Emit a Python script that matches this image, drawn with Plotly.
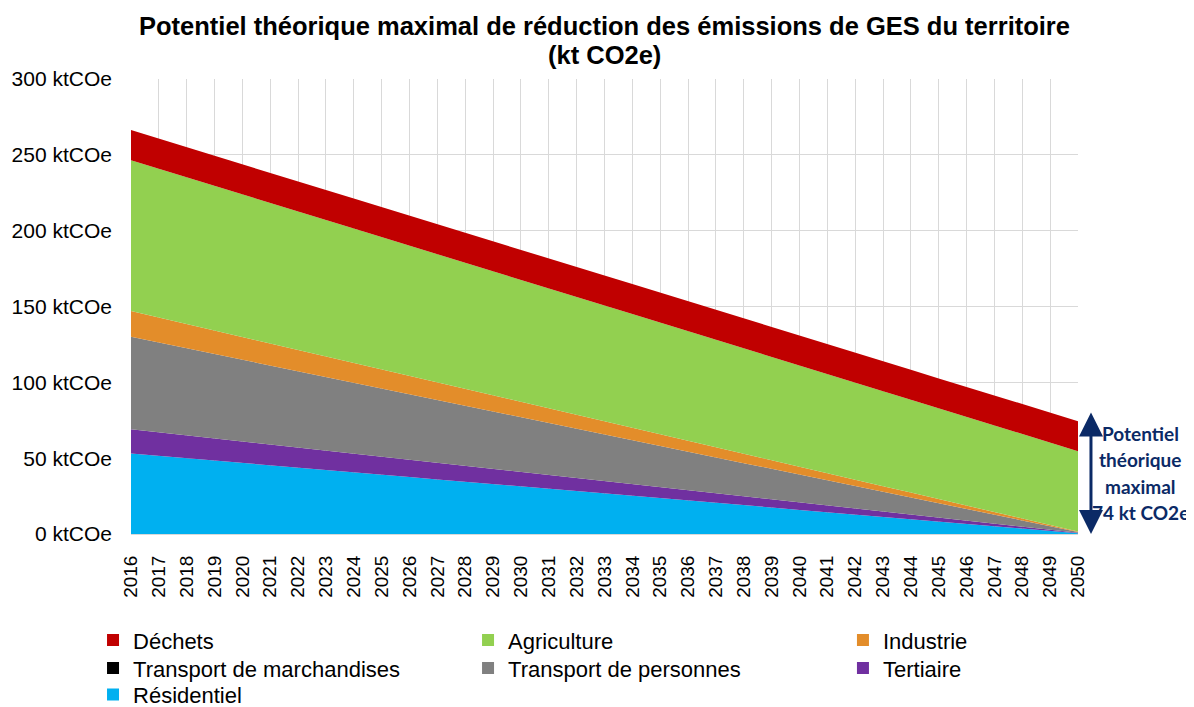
import plotly.graph_objects as go

years = list(range(2016, 2051))

residentiel = [53.0, 51.5, 49.9, 48.4, 46.8, 45.3, 43.7, 42.2, 40.6, 39.1, 37.6, 36.0, 34.5, 32.9, 31.4, 29.8, 28.3,
               26.8, 25.2, 23.7, 22.1, 20.6, 19.0, 17.5, 15.9, 14.4, 12.9, 11.3, 9.8, 8.2, 6.7, 5.1, 3.6, 2.0, 0.5]
tertiaire = [16.0, 15.5, 15.1, 14.6, 14.2, 13.7, 13.2, 12.8, 12.3, 11.8, 11.4, 10.9, 10.5, 10.0, 9.5, 9.1, 8.6,
             8.1, 7.7, 7.2, 6.8, 6.3, 5.8, 5.4, 4.9, 4.5, 4.0, 3.5, 3.1, 2.6, 2.1, 1.7, 1.2, 0.8, 0.3]
transport_personnes = [61.0, 59.2, 57.4, 55.7, 53.9, 52.1, 50.3, 48.5, 46.8, 45.0, 43.2, 41.4, 39.6, 37.9, 36.1, 34.3, 32.5,
                       30.8, 29.0, 27.2, 25.4, 23.6, 21.9, 20.1, 18.3, 16.5, 14.7, 13.0, 11.2, 9.4, 7.6, 5.8, 4.1, 2.3, 0.5]
transport_marchandises = [0.0] * 35
industrie = [17.0, 16.5, 16.0, 15.5, 15.0, 14.5, 14.1, 13.6, 13.1, 12.6, 12.1, 11.6, 11.1, 10.6, 10.1, 9.6, 9.1,
             8.6, 8.2, 7.7, 7.2, 6.7, 6.2, 5.7, 5.2, 4.7, 4.2, 3.7, 3.2, 2.8, 2.3, 1.8, 1.3, 0.8, 0.3]
agriculture = [99.5, 98.1, 96.8, 95.4, 94.0, 92.7, 91.3, 89.9, 88.6, 87.2, 85.8, 84.5, 83.1, 81.7, 80.4, 79.0, 77.6,
               76.3, 74.9, 73.5, 72.2, 70.8, 69.4, 68.0, 66.7, 65.3, 63.9, 62.6, 61.2, 59.8, 58.5, 57.1, 55.7, 54.4, 53.0]
dechets = [19.8] * 35

y_ticks = [0, 50, 100, 150, 200, 250, 300]
y_tick_labels = [f"{v} ktCOe" for v in y_ticks]

# stacking order (bottom -> top)
stack = [
    ("Résidentiel", residentiel, "#00B0F0"),
    ("Tertiaire", tertiaire, "#7030A0"),
    ("Transport de personnes", transport_personnes, "#808080"),
    ("Transport de marchandises", transport_marchandises, "#000000"),
    ("Industrie", industrie, "#E38D2A"),
    ("Agriculture", agriculture, "#92D050"),
    ("Déchets", dechets, "#C00000"),
]
# legend grid (row, column) as in the Excel 3-column legend
legend_entries = [
    ("Déchets", 0, 0), ("Agriculture", 0, 1), ("Industrie", 0, 2),
    ("Transport de marchandises", 1, 0), ("Transport de personnes", 1, 1), ("Tertiaire", 1, 2),
    ("Résidentiel", 2, 0),
]
col_x = [-0.0401, 0.3559, 0.7518]
row_y = [-0.1873, -0.2488, -0.3070]

fig = go.Figure()
for name, vals, col in stack:
    fig.add_trace(go.Scatter(
        x=years, y=vals, name=name, mode="lines", stackgroup="one",
        line=dict(width=0, color=col), fillcolor=col, showlegend=False,
        legendgroup=name, hoverinfo="x+y+name",
    ))

colors = {n: c for n, _, c in stack}
font_family = "Arial, Liberation Sans, sans-serif"
legend_layout = {}
for i, (name, r, c) in enumerate(legend_entries):
    lid = "legend" if i == 0 else f"legend{i + 1}"
    fig.add_trace(go.Scatter(
        x=[None], y=[None], name=name, mode="markers", legendgroup=name, legend=lid,
        marker=dict(symbol="square", size=13, color=colors[name]), showlegend=True,
    ))
    legend_layout[lid] = dict(
        orientation="v", x=col_x[c], xanchor="left", y=row_y[r], yanchor="top",
        font=dict(size=22, family=font_family, color="#000000"),
        itemsizing="constant", bgcolor="rgba(0,0,0,0)", itemwidth=30,
    )

fig.update_layout(
    width=1186, height=699,
    margin=dict(l=123, r=116, t=71, b=173, autoexpand=False),
    paper_bgcolor="white", plot_bgcolor="white",
    font=dict(family=font_family, color="#000000"),
    title=dict(
        text="<b>Potentiel théorique maximal de réduction des émissions de GES du territoire</b>",
        x=0.5, xref="paper", xanchor="center", y=0.9742, yref="container", yanchor="middle",
        font=dict(size=25.5, family=font_family, color="#000000"),
    ),
    xaxis=dict(
        range=[2016, 2050], tickmode="array", tickvals=years, ticktext=[str(y) for y in years],
        tickangle=-90, tickfont=dict(size=19), showgrid=True, gridcolor="#D9D9D9", gridwidth=1,
        zeroline=False, showline=True, linecolor="#D9D9D9", ticks="", ticklabelstandoff=13,
        fixedrange=True,
    ),
    yaxis=dict(
        range=[0, 300], tickmode="array", tickvals=y_ticks, ticktext=y_tick_labels,
        tickfont=dict(size=21), showgrid=True, gridcolor="#D9D9D9", gridwidth=1,
        zeroline=False, showline=False, ticks="", ticklabelstandoff=18, fixedrange=True,
    ),
    showlegend=True,
    **legend_layout,
)

# second title line
fig.add_annotation(
    x=0.5, xref="paper", y=1.0527, yref="paper", text="<b>(kt CO2e)</b>", showarrow=False,
    xanchor="center", yanchor="middle", font=dict(size=25.5, family=font_family, color="#000000"),
)

navy = "#0B2A66"
# double-headed arrow
fig.add_annotation(
    x=1.0137, xref="paper", y=0, yref="y", ax=0, ay=-123, axref="pixel", ayref="pixel",
    text="", showarrow=True, arrowhead=2, startarrowhead=2, arrowside="end+start",
    arrowsize=1.6, startarrowsize=1.6, arrowwidth=3, arrowcolor=navy, standoff=0, startstandoff=0,
)

label_lines = ["Potentiel", "théorique", "maximal", "74 kt CO2e"]
label_y = [66.0, 49.4, 31.6, 14.5]
for txt, yy in zip(label_lines, label_y):
    fig.add_annotation(
        x=1.0655, xref="paper", y=yy, yref="y", text=f"<b>{txt}</b>", showarrow=False,
        xanchor="center", yanchor="middle",
        font=dict(size=19, family="Lato, Open Sans, sans-serif", color=navy),
    )

fig.write_html("out.html")
